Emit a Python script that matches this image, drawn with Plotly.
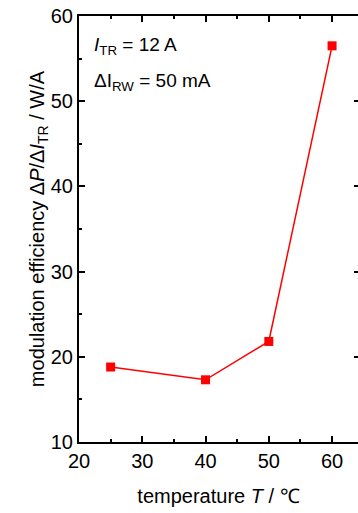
import plotly.graph_objects as go

temperature = [25, 40, 50, 60]
efficiency = [18.8, 17.3, 21.8, 56.5]
x_ticks = [20, 30, 40, 50, 60]
y_ticks = [10, 20, 30, 40, 50, 60]

FONT = "Liberation Sans, Arial, sans-serif"

fig = go.Figure()
fig.add_trace(go.Scatter(
    x=temperature, y=efficiency, mode="lines+markers",
    line=dict(color="#ff0000", width=1.5),
    marker=dict(symbol="square", size=9, color="#ff0000"),
    showlegend=False,
))

axis_common = dict(
    showline=True, linecolor="black", linewidth=2,
    ticks="inside", ticklen=6, tickwidth=1.5, tickcolor="black",
    showgrid=False, zeroline=False,
    tickfont=dict(family=FONT, size=20, color="black"),
)
minor_common = dict(ticks="inside", ticklen=3, tickwidth=1.5, tickcolor="black", dtick=5)

fig.update_xaxes(
    range=[20, 64.1], tickvals=x_ticks, mirror="ticks",
    minor=minor_common,
    title=dict(text="temperature <i>T</i> / ℃", font=dict(family=FONT, size=20, color="black"), standoff=18),
    **axis_common,
)
fig.update_yaxes(
    range=[10, 60], tickvals=y_ticks, mirror=False,
    minor=minor_common,
    title=dict(text="modulation efficiency Δ<i>P</i>/Δ<i>I</i><sub>TR</sub> / W/A",
               font=dict(family=FONT, size=20, color="black"), standoff=0),
    **axis_common,
)

# right-side major ticks only (the frame line is cut off at the image edge)
fig.update_layout(yaxis2=dict(
    overlaying="y", side="right", range=[10, 60], tickvals=y_ticks,
    ticks="inside", ticklen=4, tickwidth=1.5, tickcolor="black",
    showline=False, showgrid=False, zeroline=False,
    showticklabels=False,
))
fig.add_trace(go.Scatter(x=[None], y=[None], yaxis="y2", showlegend=False, hoverinfo="skip"))

fig.add_annotation(x=0.045, y=0.93, xref="paper", yref="paper", xanchor="left", yanchor="middle",
                   text="<i>I</i><sub>TR</sub> = 12 A", showarrow=False,
                   font=dict(family=FONT, size=19, color="black"))
fig.add_annotation(x=0.045, y=0.845, xref="paper", yref="paper", xanchor="left", yanchor="middle",
                   text="ΔI<sub>RW</sub> = 50 mA", showarrow=False,
                   font=dict(family=FONT, size=19, color="black"))

fig.update_layout(
    width=358, height=513,
    margin=dict(l=79, r=0, t=16, b=71),
    paper_bgcolor="white", plot_bgcolor="white",
)

fig.write_html("out.html")
